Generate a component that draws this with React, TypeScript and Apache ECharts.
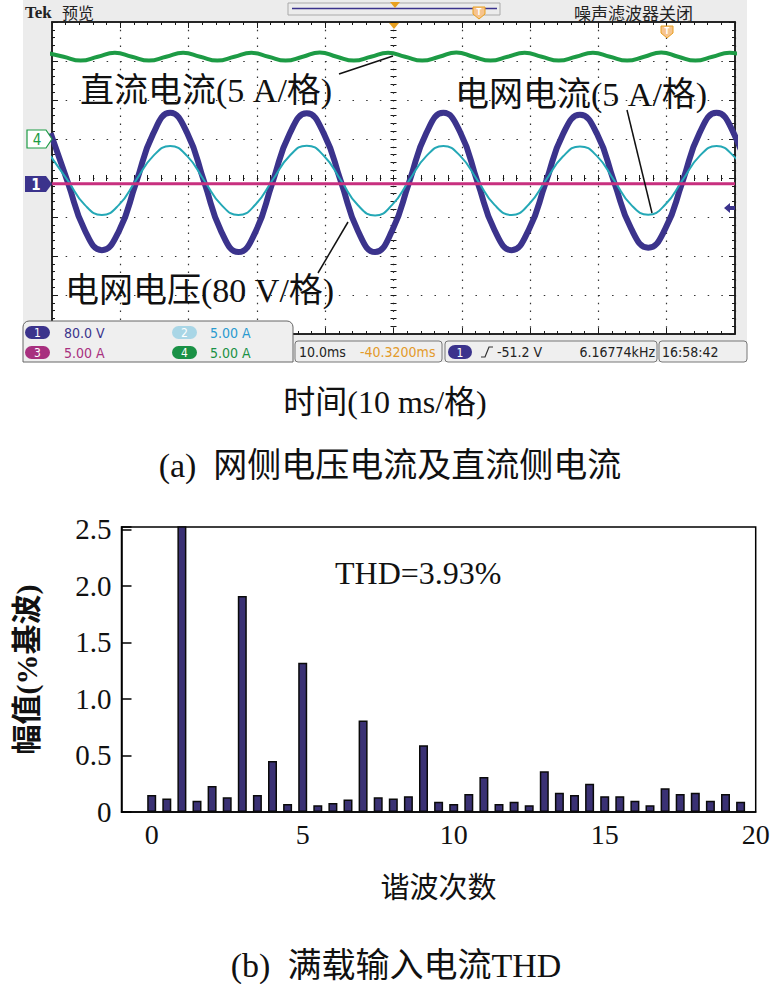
import React, { useEffect, useRef } from "react";
import * as echarts from "echarts";

// ---------- (a) oscilloscope traces (time in ms, value in divisions) ----------
const acTimes = [
  -50.2, -47.7, -45.2, -42.7, -40.2, -37.7, -35.2, -32.7, -30.2, -27.7, -25.2, -22.7, -20.2, -17.7,
  -15.2, -12.7, -10.2, -7.7, -5.2, -2.7, -0.2, 2.3, 4.8, 7.3, 9.8, 12.3, 14.8, 17.3, 19.8, 22.3, 24.8,
  27.3, 29.8, 32.3, 34.8, 37.3, 39.8, 42.3, 44.8, 47.3, 49.8, 52.3,
];
// ch1 grid voltage (80 V/div)
const gridVoltage = [
  1.15, -0.1, -1.34, -1.85, -1.36, -0.12, 1.13, 1.67, 1.15, -0.11, -1.38, -1.9, -1.38, -0.1, 1.14,
  1.66, 1.14, -0.09, -1.36, -1.9, -1.35, -0.1, 1.15, 1.67, 1.16, -0.1, -1.34, -1.85, -1.33, -0.11,
  1.12, 1.62, 1.13, -0.1, -1.3, -1.79, -1.3, -0.1, 1.15, 1.67, 1.15, -0.1,
];
// ch2 grid current (5 A/div)
const gridCurrent = [
  0.56, -0.06, -0.69, -0.95, -0.69, -0.06, 0.56, 0.82, 0.56, -0.07, -0.69, -0.95, -0.68, -0.05, 0.57,
  0.83, 0.57, -0.06, -0.7, -0.96, -0.69, -0.06, 0.56, 0.82, 0.56, -0.06, -0.69, -0.95, -0.68, -0.06,
  0.55, 0.81, 0.56, -0.06, -0.69, -0.94, -0.68, -0.06, 0.56, 0.82, 0.56, -0.06,
];
// ch4 DC current (5 A/div)
const dcTimes = [
  -50.8, -48.3, -45.8, -43.3, -40.8, -38.3, -35.8, -33.3, -30.8, -28.3, -25.8, -23.3, -20.8, -18.3,
  -15.8, -13.3, -10.8, -8.3, -5.8, -3.3, -0.8, 1.7, 4.2, 6.7, 9.2, 11.7, 14.2, 16.7, 19.2, 21.7, 24.2,
  26.7, 29.2, 31.7, 34.2, 36.7, 39.2, 41.7, 44.2, 46.7, 49.2, 51.7,
];
const dcCurrent = [
  3.21, 3.11, 3.01, 3.11, 3.21, 3.11, 3.01, 3.11, 3.21, 3.11, 3.01, 3.11, 3.21, 3.11, 3.01, 3.11,
  3.22, 3.11, 3.01, 3.11, 3.21, 3.11, 3.01, 3.11, 3.22, 3.11, 3.01, 3.11, 3.21, 3.11, 3.01, 3.11,
  3.21, 3.11, 3.01, 3.11, 3.22, 3.11, 3.01, 3.11, 3.21, 3.11,
];
// ch3 trace
const ch3Times = [-50, -25, 0, 25, 50];
const ch3Values = [-0.15, -0.15, -0.15, -0.15, -0.15];

// ---------- (b) harmonic spectrum ----------
const harmonicOrders = [
  0, 0.5, 1, 1.5, 2, 2.5, 3, 3.5, 4, 4.5, 5, 5.5, 6, 6.5, 7, 7.5, 8, 8.5, 9, 9.5, 10, 10.5, 11, 11.5,
  12, 12.5, 13, 13.5, 14, 14.5, 15, 15.5, 16, 16.5, 17, 17.5, 18, 18.5, 19, 19.5,
];
const harmonicAmps = [
  0.15, 0.12, 2.6, 0.1, 0.23, 0.13, 1.91, 0.15, 0.45, 0.07, 1.32, 0.06, 0.08, 0.11, 0.81, 0.13, 0.12,
  0.14, 0.59, 0.09, 0.07, 0.16, 0.31, 0.07, 0.09, 0.06, 0.36, 0.17, 0.15, 0.25, 0.14, 0.14, 0.1, 0.06,
  0.21, 0.16, 0.17, 0.1, 0.16, 0.09,
];
const xTickLabels = [0, 5, 10, 15, 20];

const SERIF = "'Liberation Serif', 'Times New Roman', 'Noto Sans CJK SC', serif";
const TEK = "'DejaVu Sans Condensed', 'Liberation Sans Narrow', 'Noto Sans CJK SC', sans-serif";
const CJK = "'Noto Sans CJK SC', sans-serif";

const NAVY = "#3b338c";
const CYAN = "#24a8b6";
const MAGENTA = "#c8307f";
const GREEN = "#1d9b45";
const FRAME = "#1a1a1a";

const scopeX = (extra: any) => ({
  type: "value",
  gridIndex: 0,
  min: -50,
  max: 50,
  interval: 10,
  axisLabel: { show: false },
  splitLine: { show: false },
  ...extra,
});
const scopeY = (extra: any) => ({
  type: "value",
  gridIndex: 0,
  min: -4,
  max: 4,
  interval: 1,
  axisLabel: { show: false },
  splitLine: { show: false },
  ...extra,
});
const borderLine = { show: true, onZero: false, lineStyle: { color: FRAME, width: 1.5 } };
const centerLine = { show: true, onZero: true, lineStyle: { opacity: 0 } };
const tick = (len: number) => ({ show: true, inside: true, length: len, lineStyle: { color: FRAME, width: 1 } });
const minor = (len: number) => ({ show: true, splitNumber: 5, length: len, lineStyle: { color: FRAME, width: 1 } });

const zip = (a: number[], b: number[]) => a.map((v, i) => [v, b[i]]);

function txt(x: number, y: number, text: string, font: string, fill: string, align = "left", z = 100) {
  return {
    type: "text",
    x,
    y,
    z,
    silent: true,
    style: { text, font, fill, align, verticalAlign: "middle" },
  };
}
function badge(x: number, y: number, w: number, h: number, fill: string, label: string) {
  return [
    { type: "rect", z: 101, silent: true, shape: { x, y, width: w, height: h, r: h / 2 }, style: { fill } },
    txt(x + w / 2, y + h / 2 + 0.5, label, `12px ${TEK}`, "#ffffff", "center", 102),
  ];
}

const option: any = {
  animation: false,
  backgroundColor: "#ffffff",
  grid: [
    { left: 52, top: 22, width: 683, height: 312, show: true, backgroundColor: "#ffffff", borderColor: FRAME, borderWidth: 1.5 },
    { left: 121.5, top: 527, width: 634.2, height: 285, show: true, backgroundColor: "transparent", borderColor: "#000", borderWidth: 1.5 },
  ],
  xAxis: [
    scopeX({
      position: "bottom",
      axisLine: borderLine,
      axisTick: tick(6),
      minorTick: minor(3),
      splitLine: { show: true, lineStyle: { color: "#333", width: 1.2, type: [1.5, 6.3] } },
    }),
    scopeX({ position: "top", axisLine: borderLine, axisTick: tick(6), minorTick: minor(3) }),
    scopeX({ position: "bottom", axisLine: centerLine, axisTick: tick(3), minorTick: minor(3) }),
    scopeX({ position: "top", axisLine: centerLine, axisTick: tick(3), minorTick: minor(3) }),
    {
      type: "value",
      gridIndex: 1,
      min: -1,
      max: 20,
      interval: 1,
      position: "bottom",
      axisLine: { show: true, onZero: false, lineStyle: { color: "#000", width: 1.5 } },
      axisTick: { show: false },
      splitLine: { show: false },
      axisLabel: {
        color: "#111",
        fontSize: 28,
        fontFamily: SERIF,
        margin: 8,
        formatter: (v: number) => (xTickLabels.indexOf(v) >= 0 ? String(v) : ""),
      },
      name: "谐波次数",
      nameLocation: "middle",
      nameGap: 58,
      nameTextStyle: { color: "#111", fontSize: 29, fontFamily: CJK },
    },
  ],
  yAxis: [
    scopeY({
      position: "left",
      axisLine: borderLine,
      axisTick: tick(6),
      minorTick: minor(3),
      splitLine: { show: true, lineStyle: { color: "#333", width: 1.2, type: [1.5, 12.16] } },
    }),
    scopeY({ position: "right", axisLine: borderLine, axisTick: tick(6), minorTick: minor(3) }),
    scopeY({ position: "left", axisLine: centerLine, axisTick: tick(3), minorTick: minor(3) }),
    scopeY({ position: "right", axisLine: centerLine, axisTick: tick(3), minorTick: minor(3) }),
    {
      type: "value",
      gridIndex: 1,
      min: 0,
      max: 2.52,
      interval: 0.5,
      position: "left",
      axisLine: { show: true, onZero: false, lineStyle: { color: "#000", width: 1.5 } },
      axisTick: { show: true, inside: true, length: 10, lineStyle: { color: "#000", width: 1.5 } },
      splitLine: { show: false },
      axisLabel: {
        color: "#111",
        fontSize: 29,
        fontFamily: SERIF,
        margin: 10,
        formatter: (v: number) => {
          const r = Math.round(v * 2) / 2;
          if (Math.abs(r - v) > 1e-6) return "";
          return r === 0 ? "0" : r.toFixed(1);
        },
      },
      name: "幅值(%基波)",
      nameLocation: "middle",
      nameRotate: 90,
      nameGap: 80,
      nameTextStyle: { color: "#111", fontSize: 30, fontFamily: SERIF, fontWeight: "bold" },
    },
  ],
  series: [
    {
      type: "line",
      name: "电网电压",
      xAxisIndex: 0,
      yAxisIndex: 0,
      data: zip(acTimes, gridVoltage),
      smooth: 0.5,
      showSymbol: false,
      clip: true,
      z: 5,
      lineStyle: { color: NAVY, width: 6 },
    },
    {
      type: "line",
      name: "电网电流",
      xAxisIndex: 0,
      yAxisIndex: 0,
      data: zip(acTimes, gridCurrent),
      smooth: 0.5,
      showSymbol: false,
      clip: true,
      z: 6,
      lineStyle: { color: CYAN, width: 2 },
    },
    {
      type: "line",
      name: "ch3",
      xAxisIndex: 0,
      yAxisIndex: 0,
      data: zip(ch3Times, ch3Values),
      showSymbol: false,
      clip: true,
      z: 7,
      lineStyle: { color: MAGENTA, width: 3 },
    },
    {
      type: "line",
      name: "直流电流",
      xAxisIndex: 0,
      yAxisIndex: 0,
      data: zip(dcTimes, dcCurrent),
      smooth: 0.5,
      showSymbol: false,
      clip: true,
      z: 7,
      lineStyle: { color: GREEN, width: 4 },
    },
    {
      type: "bar",
      name: "THD",
      xAxisIndex: 4,
      yAxisIndex: 4,
      data: zip(harmonicOrders, harmonicAmps),
      barWidth: 9,
      clip: true,
      itemStyle: { color: "#3a3174", borderColor: "#0a0a0a", borderWidth: 1.5 },
    },
  ],
  graphic: [
    // scope screen background
    { type: "rect", z: -10, silent: true, shape: { x: 23, y: 0, width: 724, height: 362 }, style: { fill: "#ececec" } },
    // header
    txt(25, 12, "Tek", `bold 17px ${SERIF}`, "#222"),
    txt(62, 12, "预览", `16px ${CJK}`, "#222"),
    { type: "rect", z: 100, silent: true, shape: { x: 288, y: 3, width: 212, height: 12 }, style: { fill: "none", stroke: "#aaa", lineWidth: 1 } },
    { type: "line", z: 101, silent: true, shape: { x1: 292, y1: 8.5, x2: 497, y2: 8.5 }, style: { stroke: NAVY, lineWidth: 1.5 } },
    { type: "polygon", z: 102, silent: true, shape: { points: [[390, 2], [400, 2], [395, 8]] }, style: { fill: "#e8a020" } },
    { type: "polygon", z: 102, silent: true, shape: { points: [[473, 7], [485, 7], [485, 14], [479, 19], [473, 14]] }, style: { fill: "#f6c48e", stroke: "#e8a020", lineWidth: 1 } },
    txt(479, 12, "T", `bold 8px ${TEK}`, "#ffffff", "center", 103),
    txt(574, 12, "噪声滤波器关闭", `17px ${CJK}`, "#222"),
    // graticule markers
    { type: "polygon", z: 102, silent: true, shape: { points: [[389, 23], [399, 23], [394, 29]] }, style: { fill: "#e8a020" } },
    { type: "polygon", z: 102, silent: true, shape: { points: [[661, 26], [673, 26], [673, 33], [667, 38], [661, 33]] }, style: { fill: "#f6c48e", stroke: "#e8a020", lineWidth: 1 } },
    txt(667, 31, "T", `bold 8px ${TEK}`, "#ffffff", "center", 103),
    { type: "polygon", z: 102, silent: true, shape: { points: [[27, 130], [46, 130], [52, 139], [46, 148], [27, 148]] }, style: { fill: "#ffffff", stroke: GREEN, lineWidth: 1.2 } },
    txt(37, 139.5, "4", `15px ${TEK}`, GREEN, "center", 103),
    { type: "polygon", z: 102, silent: true, shape: { points: [[25, 176], [46, 176], [52, 184], [46, 192], [25, 192]] }, style: { fill: NAVY } },
    txt(36, 184.5, "1", `bold 15px ${TEK}`, "#ffffff", "center", 103),
    { type: "polygon", z: 102, silent: true, shape: { points: [[724, 208], [730, 203], [730, 206], [735, 206], [735, 210], [730, 210], [730, 213]] }, style: { fill: NAVY } },
    // annotations
    txt(80, 90, "直流电流(5 A/格)", `34px ${SERIF}`, "#111"),
    { type: "line", z: 100, silent: true, shape: { x1: 339, y1: 74, x2: 393, y2: 56 }, style: { stroke: "#111", lineWidth: 1.5 } },
    txt(455, 94, "电网电流(5 A/格)", `34px ${SERIF}`, "#111"),
    { type: "line", z: 100, silent: true, shape: { x1: 627, y1: 110, x2: 652, y2: 213 }, style: { stroke: "#111", lineWidth: 1.5 } },
    txt(65, 290, "电网电压(80 V/格)", `34px ${SERIF}`, "#111"),
    { type: "line", z: 100, silent: true, shape: { x1: 318, y1: 273, x2: 348, y2: 222 }, style: { stroke: "#111", lineWidth: 1.5 } },
    // channel info panel
    { type: "rect", z: 100, silent: true, shape: { x: 23, y: 321, width: 270, height: 41, r: [6, 6, 0, 0] }, style: { fill: "#efefef", stroke: "#666", lineWidth: 1 } },
    ...badge(25, 326, 25, 13, NAVY, "1"),
    txt(64, 333, "80.0 V", `14px ${TEK}`, NAVY, "left", 102),
    ...badge(172, 326, 25, 13, "#a9d6e6", "2"),
    txt(210, 333, "5.00 A", `14px ${TEK}`, "#2a9ad0", "left", 102),
    ...badge(25, 346, 25, 13, "#a8307f", "3"),
    txt(64, 353, "5.00 A", `14px ${TEK}`, "#a8307f", "left", 102),
    ...badge(172, 346, 25, 13, "#1a9146", "4"),
    txt(210, 353, "5.00 A", `14px ${TEK}`, "#1a9146", "left", 102),
    // bottom status bar
    { type: "rect", z: 100, silent: true, shape: { x: 295, y: 341, width: 147, height: 21, r: 3 }, style: { fill: "#efefef", stroke: "#777", lineWidth: 1 } },
    txt(299, 352, "10.0ms", `14px ${TEK}`, "#222", "left", 102),
    txt(360, 352, "-40.3200ms", `14px ${TEK}`, "#e39a2a", "left", 102),
    { type: "rect", z: 100, silent: true, shape: { x: 445, y: 341, width: 212, height: 21, r: 3 }, style: { fill: "#efefef", stroke: "#777", lineWidth: 1 } },
    ...badge(448, 345, 24, 14, NAVY, "1"),
    { type: "polyline", z: 102, silent: true, shape: { points: [[481, 357], [485, 357], [489, 347], [493, 347]] }, style: { stroke: "#333", lineWidth: 1.2, fill: "none" } },
    txt(497, 352, "-51.2 V", `14px ${TEK}`, "#222", "left", 102),
    txt(655, 352, "6.16774kHz", `14px ${TEK}`, "#222", "right", 102),
    { type: "rect", z: 100, silent: true, shape: { x: 659, y: 341, width: 88, height: 21, r: 3 }, style: { fill: "#efefef", stroke: "#777", lineWidth: 1 } },
    txt(662, 352, "16:58:42", `14px ${TEK}`, "#222", "left", 102),
    // captions
    txt(385, 402, "时间(10 ms/格)", `32px ${SERIF}`, "#111", "center"),
    txt(390, 465, "(a)  网侧电压电流及直流侧电流", `34px ${SERIF}`, "#111", "center"),
    txt(335, 573, "THD=3.93%", `32px ${SERIF}`, "#111"),
    txt(396, 965, "(b)  满载输入电流THD", `34px ${SERIF}`, "#111", "center"),
  ],
};

export default function App() {
  const ref = useRef<HTMLDivElement>(null);
  useEffect(() => {
    if (!ref.current) return;
    const chart = echarts.init(ref.current, undefined, { renderer: "svg" });
    chart.setOption(option);
    return () => chart.dispose();
  }, []);
  return (
    <div
      ref={ref}
      style={{ position: "absolute", left: 0, top: 0, width: 773, height: 984, background: "#ffffff" }}
    />
  );
}
